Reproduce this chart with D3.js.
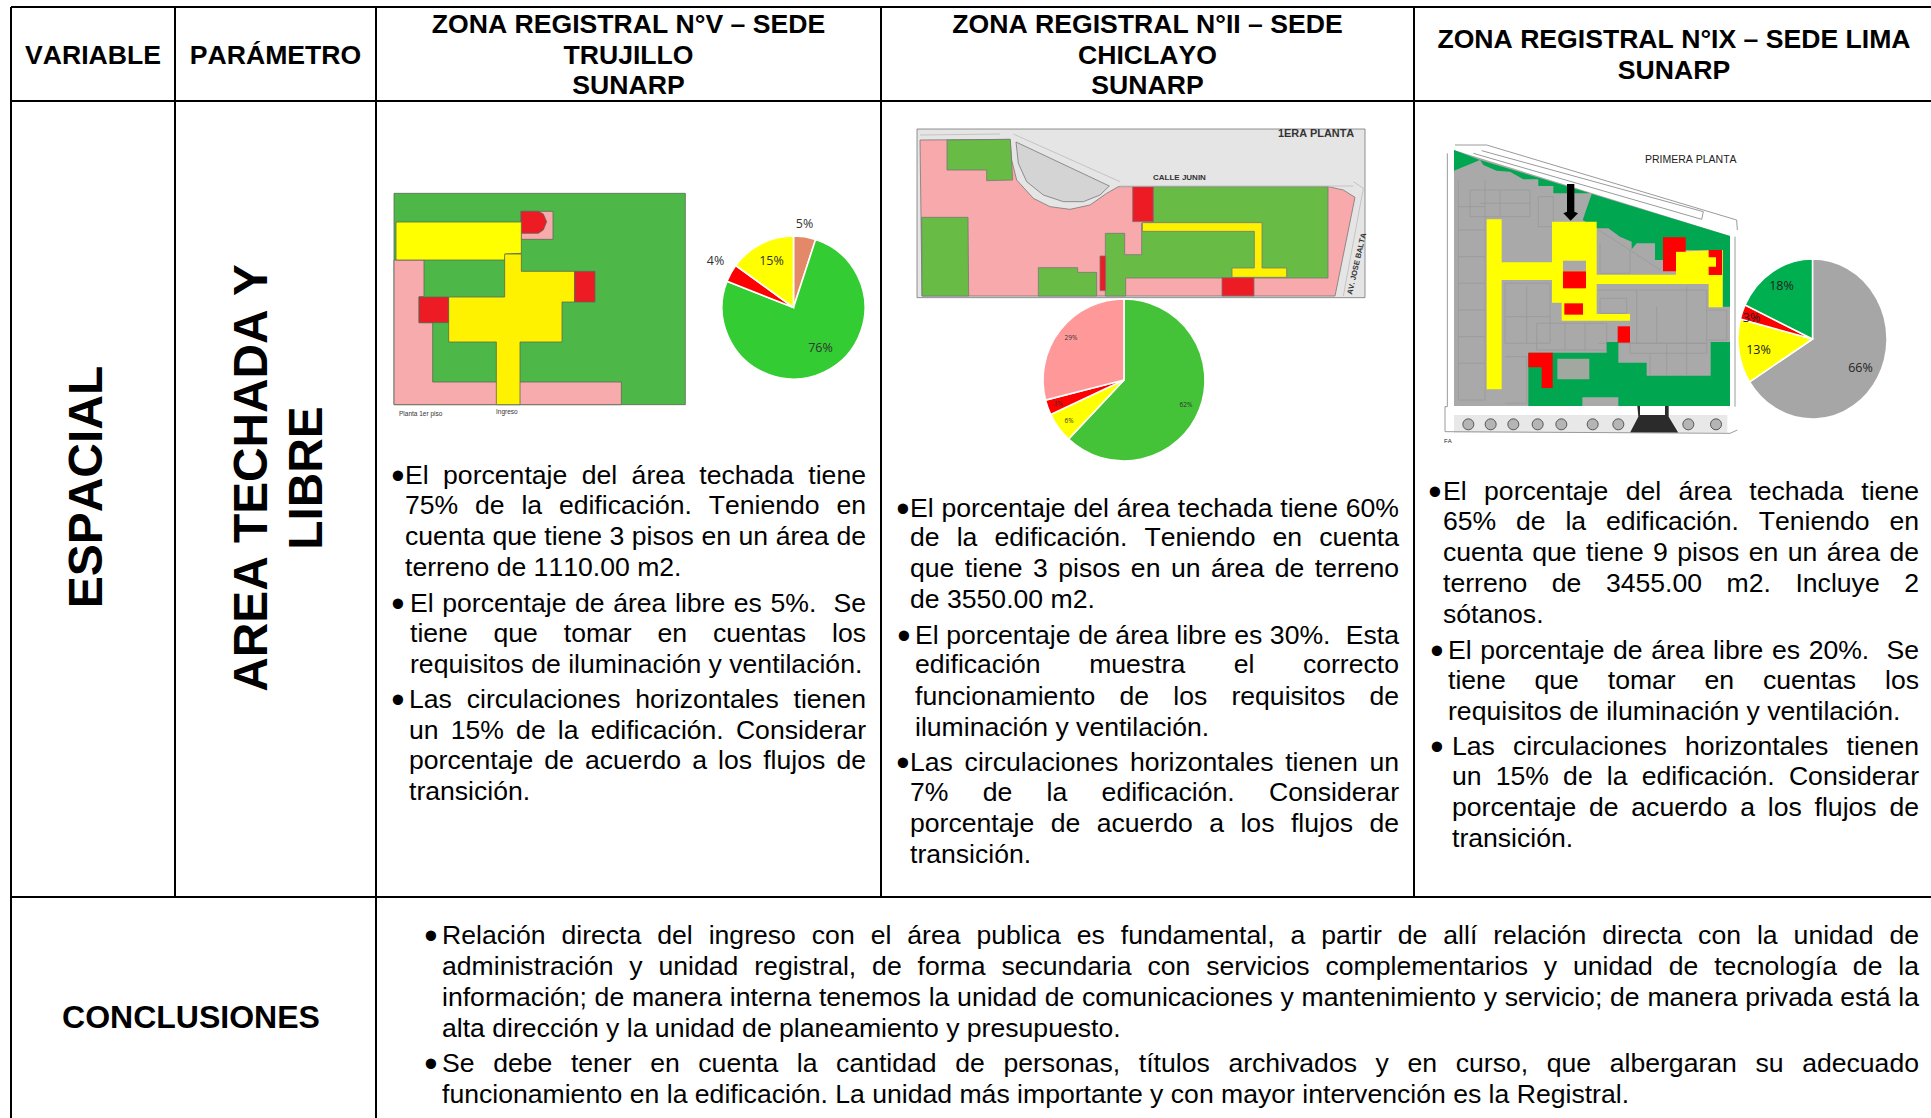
<!DOCTYPE html>
<html><head><meta charset="utf-8">
<script src="https://cdn.jsdelivr.net/npm/d3@7"></script>
<style>
html,body{margin:0;padding:0;background:#fff}
svg{display:block}
text{font-family:"Liberation Sans",Arial,sans-serif;fill:#000;white-space:pre;font-kerning:none}
</style></head><body>
<svg id="c" width="1931" height="1118"></svg>
<script>
// ---------- table text ----------
const headers = [
  ["VARIABLE"],["PARÁMETRO"],
  ["ZONA REGISTRAL N°V – SEDE","TRUJILLO","SUNARP"],
  ["ZONA REGISTRAL N°II – SEDE","CHICLAYO","SUNARP"],
  ["ZONA REGISTRAL N°IX – SEDE LIMA","SUNARP"]
];
const col1Bullets = [
 ["El porcentaje del área techada tiene","75% de la edificación. Teniendo en","cuenta que tiene 3 pisos en un área de","terreno de 1110.00 m2."],
 ["El porcentaje de área libre es 5%.  Se","tiene que tomar en cuentas los","requisitos de iluminación y ventilación."],
 ["Las circulaciones horizontales tienen","un 15% de la edificación. Considerar","porcentaje de acuerdo a los flujos de","transición."]
];
const col2Bullets = [
 ["El porcentaje del área techada tiene 60%","de la edificación. Teniendo en cuenta","que tiene 3 pisos en un área de terreno","de 3550.00 m2."],
 ["El porcentaje de área libre es 30%.  Esta","edificación muestra el correcto","funcionamiento de los requisitos de","iluminación y ventilación."],
 ["Las circulaciones horizontales tienen un","7% de la edificación. Considerar","porcentaje de acuerdo a los flujos de","transición."]
];
const col3Bullets = [
 ["El porcentaje del área techada tiene","65% de la edificación. Teniendo en","cuenta que tiene 9 pisos en un área de","terreno de 3455.00 m2. Incluye 2","sótanos."],
 ["El porcentaje de área libre es 20%.  Se","tiene que tomar en cuentas los","requisitos de iluminación y ventilación."],
 ["Las circulaciones horizontales tienen","un 15% de la edificación. Considerar","porcentaje de acuerdo a los flujos de","transición."]
];
const conclusionBullets = [
 ["Relación directa del ingreso con el área publica es fundamental, a partir de allí relación directa con la unidad de","administración y unidad registral, de forma secundaria con servicios complementarios y unidad de tecnología de la","información; de manera interna tenemos la unidad de comunicaciones y mantenimiento y servicio; de manera privada está la","alta dirección y la unidad de planeamiento y presupuesto."],
 ["Se debe tener en cuenta la cantidad de personas, títulos archivados y en curso, que albergaran su adecuado","funcionamiento en la edificación. La unidad más importante y con mayor intervención es la Registral."]
];
// ---------- pie data ----------
const pie1Values = [5,76,4,15];
const pie1Colors = ["#e4886a","#33cc33","#ff0000","#ffff00"];
const pie2Values = [62,6,3,29];
const pie2Colors = ["#44c238","#ffff00","#ff0000","#ff9999"];
const pie3Values = [66,13,3,18];
const pie3Colors = ["#a6a6a6","#ffff00","#ff0000","#00b050"];

// ---------- floor plan shapes, in plan units ----------
const plan1 = [
 ["#4db848",[[72,70],[946,70],[946,704],[72,704]]],
 ["#f8abac",[[72,270],[162,270],[162,380],[147,380],[147,458],[188,458],[188,636],[754,636],[754,704],[72,704]]],
 ["#f8abac",[[453,124],[549,124],[549,208],[453,208]]],
 ["#ed1c24",[[453,124],[505,124],[520,132],[530,155],[520,180],[505,190],[453,190]]],
 ["#ffff00",[[78,156],[454,156],[454,250],[406,252],[404,270],[78,270]]],
 ["#fff200",[[404,252],[454,252],[454,304],[614,304],[614,396],[576,396],[576,516],[450,516],[450,704],[379,704],[379,516],[236,516],[236,381],[404,381]]],
 ["#ed1c24",[[614,304],[675,304],[675,396],[614,396]]],
 ["#ed1c24",[[147,381],[235,381],[235,458],[147,458]]]
];
const plan2 = [
 ["#e5e5e5",[[51,57],[1395,57],[1395,563],[51,563]]],
 ["#f8a9ab",[[60,90],[330,88],[335,150],[350,210],[400,265],[450,290],[510,298],[570,285],[620,250],[655,230],[1285,230],[1330,240],[1365,262],[1305,558],[66,558]]],
 ["#d4d4d4",[[348,96],[628,228],[600,255],[550,275],[490,275],[430,255],[380,215],[355,160]]],
 ["#68bb45",[[141,90],[331,88],[338,210],[260,212],[260,180],[141,180]]],
 ["#68bb45",[[65,322],[204,322],[206,558],[66,558]]],
 ["#68bb45",[[415,473],[533,473],[533,487],[590,487],[590,558],[415,558]]],
 ["#68bb45",[[760,230],[1284,230],[1284,504],[677,504],[677,558],[616,558],[616,370],[674,370],[674,434],[725,434],[725,340],[760,335]]],
 ["#fff200",[[727,338],[1086,338],[1086,474],[1160,474],[1160,502],[996,502],[996,474],[1063,474],[1063,364],[727,364]]],
 ["#ed1c24",[[698,230],[760,230],[760,335],[698,335]]],
 ["#ed1c24",[[600,438],[617,438],[617,542],[600,542]]],
 ["#ed1c24",[[966,503],[1062,503],[1062,558],[966,558]]]
];
const plan3Art = [
 [[85,150],[85,810],[165,810],[165,150]],[[85,230],[165,230]],[[85,300],[165,300]],[[85,380],[165,380]],[[85,460],[165,460]],[[85,540],[165,540]],[[85,620],[165,620]],[[85,700],[165,700]],
 [[120,180],[300,180],[300,260],[120,260],[120,180]],[[150,220],[300,220]],[[210,180],[210,260]],
 [[325,200],[370,200],[370,290],[325,290],[325,200]],
 [[225,460],[360,460],[360,640],[225,640],[225,460]],[[290,470],[290,640]],[[225,560],[360,560]],
 [[225,680],[290,680],[290,820],[225,820]],
 [[320,580],[530,580],[530,660],[320,660],[320,580]],[[405,580],[405,660]],[[465,580],[465,660]],
 [[505,300],[600,360],[690,420]],[[510,340],[510,430],[600,430],[600,360]],
 [[505,480],[830,480],[830,640],[505,640]],[[510,505],[590,505],[590,550],[510,550],[510,505]],[[620,480],[620,640]],[[680,530],[680,640]],[[770,470],[770,640]],
 [[600,640],[830,640],[830,670],[600,670],[600,640]],[[660,670],[660,735]],[[710,640],[710,735]],[[770,640],[770,735]],[[835,540],[890,540],[890,630],[835,630]]
];
const plan3 = [
 ["#a9a9a9",[[72,60],[900,318],[900,828],[72,828]]],
 ["#00a650",[[72,60],[150,90],[72,122]]],
 ["#00a650",[[150,90],[480,190],[370,190],[370,168],[325,168],[325,148],[280,148],[240,125],[200,122],[160,105]]],
 ["#00a650",[[485,192],[900,318],[900,530],[878,530],[878,360],[700,360],[700,390],[675,390],[675,340],[620,340],[605,358],[605,335],[570,320],[535,295],[500,295],[458,270]]],
 ["#00a650",[[295,828],[295,668],[530,668],[530,636],[565,636],[565,698],[650,698],[650,737],[842,737],[842,636],[900,636],[900,828],[565,828],[565,802],[457,802],[457,828]]],
 ["#a0a8a0",[[382,686],[478,686],[478,748],[382,748]]],
 ["#ffff00",[[170,268],[215,268],[215,397],[366,397],[366,275],[500,275],[500,434],[738,434],[738,365],[878,360],[878,532],[836,532],[836,462],[500,462],[500,552],[600,552],[600,572],[395,572],[395,518],[366,518],[366,450],[215,450],[215,778],[170,778]]],
 ["#a9a9a9",[[399,392],[468,392],[468,424],[399,424]]],
 ["#ff0000",[[399,424],[468,424],[468,475],[399,475]]],
 ["#ff0000",[[403,520],[459,520],[459,554],[403,554]]],
 ["#ff0000",[[699,322],[767,322],[767,365],[738,365],[738,424],[699,424]]],
 ["#ff0000",[[836,360],[876,360],[876,435],[836,435],[836,410],[858,410],[858,382],[836,382]]],
 ["#ff0000",[[563,589],[600,589],[600,638],[563,638]]],
 ["#ff0000",[[295,668],[368,668],[368,774],[335,774],[335,712],[295,712]]],
 ["#000000",[[411,162],[433,162],[433,245],[444,250],[422,272],[400,250],[411,245]]],
 ["#e8e8e8",[[72,855],[892,855],[892,908],[72,908]]],
 ["#2b2b2b",[[622,828],[630,828],[630,855],[705,855],[705,828],[716,828],[716,860],[745,908],[600,908],[625,860]]],
 ["#ffffff",[[630,830],[705,830],[705,855],[630,855]]]
];
const plan3Wheels = [115,182,250,323,394,488,565,775,858];
const plan3Lines = [
 [[75,45],[170,45],[920,270],[922,300]],
 [[155,62],[820,245],[815,268],[130,70]],
 [[52,70],[52,830],[45,830],[45,905],[900,910],[922,900]],
 [[915,320],[915,830]]
];
const plan2Lines = [
 [[60,75],[300,72]],[[340,72],[660,215]],[[660,228],[1360,228]],[[1360,215],[1390,235],[1330,558]]
];

const svg = d3.select("#c");
const W = 1931, H = 1118;
const gridX = [11,175,376,881,1414];
const gridY = [7,101,897];
const FS = 26.6, HFS = 26.6;

// grid
const grid = svg.append("g").attr("stroke","#000").attr("stroke-width",2);
grid.selectAll("line.h").data(gridY).join("line").attr("x1",gridX[0]).attr("x2",W).attr("y1",d=>d).attr("y2",d=>d);
grid.selectAll("line.v").data(gridX).join("line").attr("x1",d=>d).attr("x2",d=>d).attr("y1",gridY[0])
   .attr("y2",(d,i)=> (i===0||i===2)?H:gridY[2]);

// headers
const hdrCx = [(gridX[0]+gridX[1])/2,(gridX[1]+gridX[2])/2,(gridX[2]+gridX[3])/2,(gridX[3]+gridX[4])/2,1674];
headers.forEach((ls,i)=>{
  const y0 = 54.5 - (ls.length-1)*30.4/2 + 9;
  svg.append("g").selectAll("text").data(ls).join("text")
    .attr("x",hdrCx[i]).attr("y",(d,j)=>y0+j*30.4)
    .attr("text-anchor","middle").attr("font-weight","bold").attr("font-size",HFS).text(d=>d);
});

// rotated labels
function vtext(cx,cy,lines,size,gap){
  const g = svg.append("g").attr("transform",`translate(${cx},${cy}) rotate(-90)`);
  g.selectAll("text").data(lines).join("text").attr("text-anchor","middle")
   .attr("font-weight","bold").attr("font-size",size)
   .attr("y",(d,j)=>j*gap).text(d=>d);
}
vtext(102,487,["ESPACIAL"],48,0);
vtext(267,478,["AREA TECHADA Y","LIBRE"],47.8,55);
svg.append("text").attr("x",191).attr("y",1028).attr("text-anchor","middle")
   .attr("font-weight","bold").attr("font-size",32).text("CONCLUSIONES");

// justified body text
function block(bullets, bx, tx, right, centers){
  let k=0;
  bullets.forEach((ls,b)=>{
    ls.forEach((line,j)=>{
      const y = centers[k++]*1.2315+9.5;
      if(j===0) svg.append("text").attr("x",bx[b]).attr("y",y+5).attr("font-size",38).attr("text-anchor","middle").text("•");
      const t = svg.append("text").attr("x",tx[b]).attr("y",y).attr("font-size",FS).text(line);
      if(j<ls.length-1){
        const w = t.node().getComputedTextLength();
        const n = (line.match(/ /g)||[]).length;
        if(n>0) t.attr("word-spacing",(right-tx[b]-w)/n);
      }
    });
  });
}
block(col1Bullets,[398,398,398],[405,410,409],866,[385,410,435,460,489,514,539,567,592,617,642]);
block(col2Bullets,[903,904,903],[910,915,910],1399,[412,436,461,486,515,539,565,590,618,643,668,693]);
block(col3Bullets,[1435,1437,1437],[1443,1448,1452],1919,[398,423,448,473,498,527,552,577,605,630,655,680]);
block(conclusionBullets,[431,431],[442,442],1919,[759,784,809,834,863,888]);

// plans
const polyPath = d3.line();
function drawPlan(shapes, ox, oy, stroke, art){
  const x = d3.scaleLinear().domain([0,1500]).range([ox,ox+500]);
  const y = d3.scaleLinear().domain([0,1500]).range([oy,oy+500]);
  const g = svg.append("g").style("filter","blur(0.6px)");
  const pts = a=>a.map(p=>[x(p[0]),y(p[1])]);
  const base = art ? shapes.slice(0,1) : [];
  const rest = art ? shapes.slice(1) : shapes;
  const paint = (sel,data)=>sel.selectAll(null).data(data).join("path")
    .attr("d",d=>polyPath(pts(d[1]))+"Z")
    .attr("fill",d=>d[0])
    .attr("stroke",stroke||"none").attr("stroke-width",stroke?0.8:0);
  paint(g,base);
  if(art) g.selectAll(null).data(art).join("path").attr("d",d=>polyPath(pts(d)))
    .attr("fill","none").attr("stroke","#999").attr("stroke-width",0.8);
  paint(g,rest);
  return {x,y,g};
}
const p1 = drawPlan(plan1,370,170,"#5a6a55");
const p2 = drawPlan(plan2,900,110,"#777");
const p3 = drawPlan(plan3,1430,130,null,plan3Art);

function ln(p,lines,color,w){
  p.g.selectAll("path.l").data(lines).join("path").attr("class","l")
    .attr("d",d=>polyPath(d.map(q=>[p.x(q[0]),p.y(q[1])])))
    .attr("fill","none").attr("stroke",color).attr("stroke-width",w);
}
ln(p2,plan2Lines,"#c4c4c4",1);
ln(p3,plan3Lines,"#9a9a9a",1);
p3.g.selectAll("circle").data(plan3Wheels).join("circle")
  .attr("cx",d=>p3.x(d)).attr("cy",p3.y(883)).attr("r",5.5)
  .attr("fill","#b5b5b5").attr("stroke","#555").attr("stroke-width",1);

function small(x,y,s,size,opts={}){
  const t = svg.append("text").attr("x",x).attr("y",y).attr("font-size",size).text(s)
   .attr("font-weight",opts.bold?"bold":"normal").attr("text-anchor",opts.anchor||"start");
  if(opts.rot) t.attr("transform",`rotate(${opts.rot} ${x} ${y})`);
  t.style("fill",opts.fill||"#333");
}
small(399,416,"Planta 1er piso",6.5);
small(496,414,"Ingreso",6.5);
small(1278,137,"1ERA PLANTA",10.9,{bold:true});
small(1153,180,"CALLE JUNIN",8,{bold:true});
small(1352,295,"AV. JOSE BALTA",7.6,{bold:true,rot:-77});
small(1645,163,"PRIMERA PLANTA",10.5,{fill:"#222"});
small(1444,443,"FA",6,{fill:"#222"});

// pies
function drawPie(values,colors,cx,cy,rx,ry,labelOffsets,size,labelFill){
  const arcs = d3.pie().sort(null)(values);
  const arc = d3.arc().innerRadius(0).outerRadius(ry);
  const g = svg.append("g").attr("transform",`translate(${cx},${cy}) scale(${rx/ry},1)`);
  g.selectAll("path").data(arcs).join("path").attr("d",arc)
    .attr("fill",(d,i)=>colors[i]).attr("stroke","#fff").attr("stroke-width",1.6);
  svg.selectAll(null).data(arcs).join("text")
    .attr("x",(d,i)=>cx+labelOffsets[i][0]).attr("y",(d,i)=>cy+labelOffsets[i][1]+size*0.35)
    .attr("text-anchor","middle").attr("font-size",size)
    .style("font-family","'Open Sans',sans-serif").style("fill",labelFill)
    .text(d=>d.value+"%");
}
drawPie(pie1Values,pie1Colors,793.5,307.5,71.5,71.5,[[11,-84],[27,40],[-78,-47],[-22,-47]],12.5,"#333");
drawPie(pie2Values,pie2Colors,1124,380,81,81,[[62,25],[-55,41],[-66,24],[-53,-42]],6.5,"#333");
drawPie(pie3Values,pie3Colors,1812.5,339,74.5,80,[[48,29],[-54,11],[-61,-21],[-31,-53]],12.5,"#222");
</script>
</body></html>
